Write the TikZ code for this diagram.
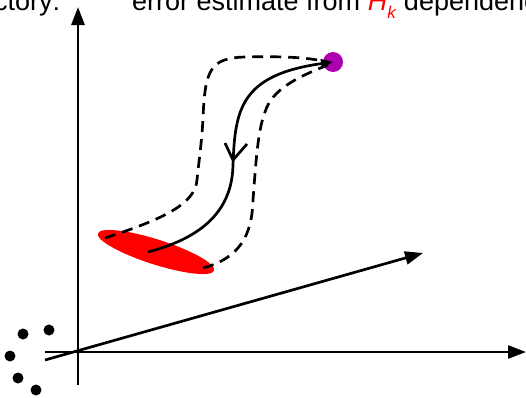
\documentclass[tikz,border=0pt]{standalone}
\usepackage{fontspec}
\setmainfont{Liberation Sans}
\usetikzlibrary{arrows.meta}
\definecolor{dotmag}{RGB}{175,0,175}
\tikzset{
  axis/.style={line width=2.7pt,-{Triangle[length=18pt,width=13pt]}},
  traj/.style={line width=2.7pt},
  dashtraj/.style={line width=2.7pt,dash pattern=on 11pt off 7pt},
  pt/.style={fill=black},
  lbl/.style={inner sep=0pt,font=\fontsize{27}{30}\selectfont}
}
\begin{document}
\begin{tikzpicture}[x=1pt,y=-1pt]
\useasboundingbox (0,0) rectangle (526,397);
\clip (0,0) rectangle (526,397);
% labels
\node[lbl,anchor=base west] (t1) at (-6,10) {ctory:};
\node[lbl,anchor=base west] (t2) at (132,10) {error estimate from \textcolor{red}{\textit{H}\raisebox{-0.3em}{\fontsize{17}{17}\selectfont\textit{k}}} dependenc};
% coordinates
\coordinate (O) at (78,352);
\coordinate (ytop) at (78,7);
\coordinate (ybot) at (78,385);
\coordinate (xl) at (45,352);
\coordinate (xr) at (526,352);
\coordinate (zl) at (45,360);
\coordinate (zr) at (423,253);
\coordinate (goal) at (333,62);
% axes
\draw[axis] (ybot) -- (ytop);
\draw[axis] (xl) -- (xr);
\draw[axis] (zl) -- (zr);
% dots
\foreach \p in {(23,334),(49,330),(10,356),(18,378),(36,390)}
  \fill[pt] \p circle (5.5);
% ellipse
\begin{scope}[shift={(156,252)},rotate=-17.7]
  \fill[red] (0,0) coordinate (E) ellipse [x radius=61,y radius=12.5];
\end{scope}
% goal dot
\fill[dotmag] (goal) circle (10);
% dashed trajectories
\draw[dashtraj] (105,238) .. controls (160,220) and (195,205) .. (197,180)
  .. controls (199,160) and (202,140) .. (203,118)
  .. controls (205,70) and (210,58) .. (245,57)
  .. controls (290,56) and (310,58) .. (328,62);
\draw[dashtraj] (203,268) .. controls (240,258) and (252,235) .. (253,200)
  .. controls (256,160) and (258,130) .. (265,112)
  .. controls (272,90) and (295,78) .. (328,65);
% solid trajectory
\draw[traj,-{Triangle[length=12pt,width=9pt]}] (148,252) .. controls (185,242) and (232,222) .. (233,165)
  .. controls (235,110) and (240,75) .. (goal);
\draw[traj,line join=miter] (225,143) -- (233,160) -- (247,144);
\end{tikzpicture}
\end{document}
